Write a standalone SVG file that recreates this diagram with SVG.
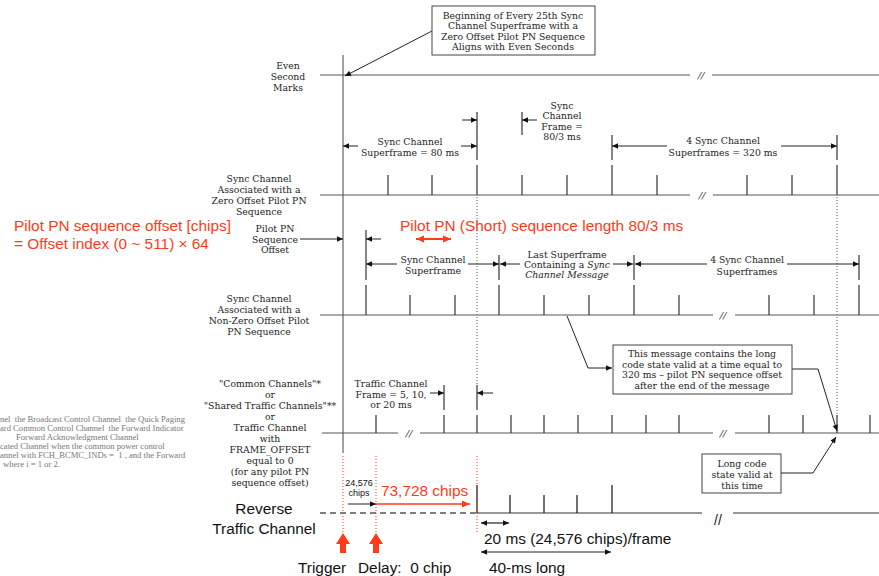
<svg xmlns="http://www.w3.org/2000/svg" width="879" height="576" viewBox="0 0 879 576">
<style>
.s{font-family:"DejaVu Serif","Liberation Serif",serif;font-size:9.3px;fill:#222;text-anchor:middle}
.si{font-style:italic}
.r{font-family:"Liberation Sans",Arial,sans-serif;font-size:15.4px;fill:#ff3b1a}
.k{font-family:"Liberation Sans",Arial,sans-serif;font-size:15.4px;fill:#111}
.g{font-family:"Liberation Serif",serif;font-size:8.6px;fill:#777}
.brk{font-family:"DejaVu Serif",serif;font-style:italic;font-size:10px;fill:#333;text-anchor:middle}
.ln{stroke:#555;stroke-width:1;fill:none}
.tk{stroke:#333;stroke-width:1.2;fill:none}
.ar{stroke:#222;stroke-width:1;fill:none;marker-end:url(#ah)}
.ar2{stroke:#222;stroke-width:1.2;fill:none;marker-start:url(#ah);marker-end:url(#ah)}
.dot{stroke:#666;stroke-width:1;stroke-dasharray:1 2;fill:none}
.rdot{stroke:#ff3b1a;stroke-width:1;stroke-dasharray:1 2;fill:none}
.box{fill:#fff;stroke:#444;stroke-width:1}
</style>
<defs>
<marker id="ah" viewBox="0 0 10 10" refX="10" refY="5" markerWidth="8" markerHeight="6" markerUnits="userSpaceOnUse" orient="auto-start-reverse"><path d="M0,0.5 L10,5 L0,9.5 z" fill="#111"/></marker>
<marker id="rah" viewBox="0 0 10 10" refX="10" refY="5" markerWidth="10" markerHeight="8" markerUnits="userSpaceOnUse" orient="auto-start-reverse"><path d="M0,0.5 L10,5 L0,9.5 z" fill="#ff3b1a"/></marker>
</defs>
<rect width="879" height="576" fill="#fff"/>

<g id="connectors">
  <line class="ln" x1="343" y1="55" x2="343" y2="453" style="stroke:#444"/>
  <line class="ln" x1="320" y1="75" x2="690" y2="75"/>
  <line class="ln" x1="712" y1="75" x2="879" y2="75"/>
  <text class="brk" x="701" y="79">//</text>
  <line class="ln" x1="320" y1="195" x2="690" y2="195"/>
  <line class="ln" x1="713" y1="195" x2="879" y2="195"/>
  <text class="brk" x="702" y="199">//</text>
  <g class="tk">
    <line x1="388" y1="175" x2="388" y2="195"/><line x1="432" y1="175" x2="432" y2="195"/>
    <line x1="477" y1="165" x2="477" y2="195"/><line x1="522" y1="175" x2="522" y2="195"/>
    <line x1="567" y1="175" x2="567" y2="195"/><line x1="612" y1="165" x2="612" y2="195"/>
    <line x1="657" y1="175" x2="657" y2="195"/><line x1="747" y1="175" x2="747" y2="195"/>
    <line x1="792" y1="175" x2="792" y2="195"/><line x1="837" y1="165" x2="837" y2="195"/>
    <line x1="477" y1="112" x2="477" y2="160"/><line x1="522" y1="112" x2="522" y2="135"/>
    <line x1="612" y1="135" x2="612" y2="160"/><line x1="837" y1="135" x2="837" y2="160"/>
  </g>
  <line class="ar" x1="358" y1="146" x2="343" y2="146"/>
  <line class="ar" x1="461" y1="146" x2="477" y2="146"/>
  <line class="ar" x1="462" y1="120" x2="477" y2="120"/>
  <line class="ar" x1="537" y1="120" x2="522" y2="120"/>
  <line class="ar" x1="667" y1="146" x2="612" y2="146"/>
  <line class="ar" x1="781" y1="146" x2="837" y2="146"/>
  <line class="dot" x1="477" y1="197" x2="477" y2="385"/>
  <line class="dot" x1="837" y1="197" x2="837" y2="415"/>
  <line class="ln" x1="320" y1="315" x2="713" y2="315"/>
  <line class="ln" x1="735" y1="315" x2="879" y2="315"/>
  <text class="brk" x="723" y="319">//</text>
  <g class="tk">
    <line x1="366" y1="285" x2="366" y2="315"/><line x1="410" y1="295" x2="410" y2="315"/>
    <line x1="455" y1="295" x2="455" y2="315"/><line x1="499" y1="285" x2="499" y2="315"/>
    <line x1="544" y1="295" x2="544" y2="315"/><line x1="589" y1="295" x2="589" y2="315"/>
    <line x1="634" y1="285" x2="634" y2="315"/><line x1="679" y1="295" x2="679" y2="315"/>
    <line x1="769" y1="295" x2="769" y2="315"/><line x1="814" y1="295" x2="814" y2="315"/>
    <line x1="859" y1="285" x2="859" y2="315"/>
    <line x1="366" y1="230" x2="366" y2="280"/><line x1="499" y1="255" x2="499" y2="280"/>
    <line x1="634" y1="255" x2="634" y2="280"/><line x1="859" y1="255" x2="859" y2="280"/>
  </g>
  <line class="ar" x1="300" y1="239" x2="343" y2="239"/>
  <line class="ar" x1="381" y1="239" x2="366" y2="239"/>
  <line x1="416" y1="239" x2="451" y2="239" style="stroke:#ff3b1a;stroke-width:2;marker-start:url(#rah);marker-end:url(#rah)"/>
  <line class="ar" x1="397" y1="264" x2="366" y2="264"/>
  <line class="ar" x1="468" y1="264" x2="499" y2="264"/>
  <line class="ar" x1="520" y1="264" x2="500" y2="264"/>
  <line class="ar" x1="613" y1="264" x2="633" y2="264"/>
  <line class="ar" x1="707" y1="264" x2="635" y2="264"/>
  <line class="ar" x1="787" y1="264" x2="859" y2="264"/>
  <line class="ln" x1="322" y1="433" x2="398" y2="433"/>
  <line class="ln" x1="420" y1="433" x2="713" y2="433"/>
  <line class="ln" x1="735" y1="433" x2="879" y2="433"/>
  <text class="brk" x="409" y="437">//</text>
  <text class="brk" x="723" y="437">//</text>
  <g class="tk">
    <line x1="376" y1="415" x2="376" y2="433"/><line x1="444" y1="415" x2="444" y2="433"/>
    <line x1="477" y1="415" x2="477" y2="433"/><line x1="511" y1="415" x2="511" y2="433"/>
    <line x1="544" y1="415" x2="544" y2="433"/><line x1="578" y1="415" x2="578" y2="433"/>
    <line x1="612" y1="415" x2="612" y2="433"/><line x1="646" y1="415" x2="646" y2="433"/>
    <line x1="679" y1="415" x2="679" y2="433"/><line x1="769" y1="415" x2="769" y2="433"/>
    <line x1="803" y1="415" x2="803" y2="433"/><line x1="837" y1="415" x2="837" y2="433"/>
    <line x1="870" y1="415" x2="870" y2="433"/>
    <line x1="444" y1="385" x2="444" y2="410"/><line x1="477" y1="385" x2="477" y2="410"/>
  </g>
  <line class="ar" x1="430" y1="393" x2="444" y2="393"/>
  <line class="ar" x1="493" y1="393" x2="477" y2="393"/>
  <line x1="320" y1="513" x2="477" y2="513" style="stroke:#555;stroke-width:1.5;stroke-dasharray:6 4"/>
  <line class="ln" x1="477" y1="513" x2="702" y2="513" style="stroke:#333"/>
  <line class="ln" x1="733" y1="513" x2="879" y2="513" style="stroke:#333"/>
  <text x="718" y="525" style="font-family:'Liberation Sans',sans-serif;font-size:14px;fill:#222;text-anchor:middle">//</text>
  <g class="tk" style="stroke:#111">
    <line x1="477" y1="485" x2="477" y2="513"/><line x1="510" y1="495" x2="510" y2="513"/>
    <line x1="544" y1="495" x2="544" y2="513"/><line x1="577" y1="495" x2="577" y2="513"/>
    <line x1="612" y1="485" x2="612" y2="513"/>
  </g>
  <line class="rdot" x1="343" y1="456" x2="343" y2="533"/>
  <line class="rdot" x1="376" y1="456" x2="376" y2="533"/>
  <line class="rdot" x1="477" y1="456" x2="477" y2="532"/>
  <line class="ar" x1="348" y1="504" x2="376" y2="504"/>
  <line x1="376" y1="504" x2="470" y2="504" style="stroke:#ff3b1a;stroke-width:1.5;marker-end:url(#rah)"/>
  <line class="ar2" x1="481" y1="523" x2="509" y2="523"/>
  <line class="ar2" x1="481" y1="552" x2="611" y2="552"/>
  <path d="M343,533 L350,544 L346,544 L346,553 L340,553 L340,544 L336,544 Z" fill="#ff3b1a"/>
  <path d="M376,533 L383,544 L379,544 L379,553 L373,553 L373,544 L369,544 Z" fill="#ff3b1a"/>
  <line class="ar" x1="432" y1="31" x2="345" y2="76"/>
  <polyline class="ar" points="567,316 588,368 612,368"/>
  <polyline class="ar" points="792,369 818,369 837,431"/>
  <polyline class="ar" points="781,473 813,473 836,437"/>
</g>

<g id="note-top">
  <rect class="box" x="432" y="6" width="163" height="49"/>
  <text class="s" x="513" y="18.5">Beginning of Every 25th Sync</text>
  <text class="s" x="513" y="29">Channel Superframe with a</text>
  <text class="s" x="513" y="39.5">Zero Offset Pilot PN Sequence</text>
  <text class="s" x="513" y="50">Aligns with Even Seconds</text>
</g>
<g id="label-even">
  <text class="s" x="288" y="68.5">Even</text>
  <text class="s" x="288" y="79.5">Second</text>
  <text class="s" x="288" y="90.5">Marks</text>
</g>
<g id="dim-row1">
  <text class="s" x="410" y="144.5">Sync Channel</text>
  <text class="s" x="410" y="155.5">Superframe = 80 ms</text>
  <text class="s" x="562" y="108.5">Sync</text>
  <text class="s" x="562" y="119">Channel</text>
  <text class="s" x="562" y="129.5">Frame =</text>
  <text class="s" x="562" y="140">80/3 ms</text>
  <text class="s" x="723" y="143.5">4 Sync Channel</text>
  <text class="s" x="723" y="155.5">Superframes = 320 ms</text>
</g>
<g id="label-row1">
  <text class="s" x="259" y="181.5">Sync Channel</text>
  <text class="s" x="259" y="192.5">Associated with a</text>
  <text class="s" x="259" y="203.5">Zero Offset Pilot PN</text>
  <text class="s" x="259" y="214.5">Sequence</text>
</g>
<g id="red-offset">
  <text class="r" x="14" y="230.5">Pilot PN sequence offset [chips]</text>
  <text class="r" x="14" y="248.5">= Offset index (0 ~ 511) × 64</text>
  <text class="r" x="400" y="230.5">Pilot PN (Short) sequence length 80/3 ms</text>
</g>
<g id="label-offset">
  <text class="s" x="275" y="231.5">Pilot PN</text>
  <text class="s" x="275" y="242.5">Sequence</text>
  <text class="s" x="275" y="252.5">Offset</text>
</g>
<g id="dim-row2">
  <text class="s" x="433" y="262.5">Sync Channel</text>
  <text class="s" x="433" y="273.5">Superframe</text>
  <text class="s" x="567" y="257.5">Last Superframe</text>
  <text class="s" x="567" y="267.5">Containing a <tspan class="si">Sync</tspan></text>
  <text class="s si" x="567" y="278">Channel Message</text>
  <text class="s" x="747" y="262.5">4 Sync Channel</text>
  <text class="s" x="747" y="274.5">Superframes</text>
</g>
<g id="label-row2">
  <text class="s" x="259" y="301.5">Sync Channel</text>
  <text class="s" x="259" y="312.5">Associated with a</text>
  <text class="s" x="259" y="323.5">Non-Zero Offset Pilot</text>
  <text class="s" x="259" y="334.5">PN Sequence</text>
</g>
<g id="note-message">
  <rect class="box" x="613" y="345" width="179" height="49"/>
  <text class="s" x="702" y="356.5">This message contains the long</text>
  <text class="s" x="702" y="367.5">code state valid at a time equal to</text>
  <text class="s" x="702" y="378">320 ms – pilot PN sequence offset</text>
  <text class="s" x="702" y="389">after the end of the message</text>
</g>
<g id="dim-row3">
  <text class="s" x="391" y="386.5">Traffic Channel</text>
  <text class="s" x="391" y="397.5">Frame = 5, 10,</text>
  <text class="s" x="391" y="407.5">or 20 ms</text>
</g>
<g id="label-row3">
  <text class="s" x="270" y="386.5">"Common Channels"*</text>
  <text class="s" x="270" y="397.5">or</text>
  <text class="s" x="270" y="408.5">"Shared Traffic Channels"**</text>
  <text class="s" x="270" y="419.5">or</text>
  <text class="s" x="270" y="430.5">Traffic Channel</text>
  <text class="s" x="270" y="441.5">with</text>
  <text class="s" x="270" y="452.5">FRAME_OFFSET</text>
  <text class="s" x="270" y="463.5">equal to 0</text>
  <text class="s" x="270" y="474.5">(for any pilot PN</text>
  <text class="s" x="270" y="485.5">sequence offset)</text>
</g>
<g id="footnote">
  <text class="g" x="0" y="421.5">nel&#160; the Broadcast Control Channel&#160; the Quick Paging</text>
  <text class="g" x="0" y="431">ard Common Control Channel&#160; the Forward Indicator</text>
  <text class="g" x="16" y="440">Forward Acknowledgment Channel</text>
  <text class="g" x="0" y="449">cated Channel when the common power control</text>
  <text class="g" x="0" y="458">annel with FCH_BCMC_INDs =&#160; 1 , and the Forward</text>
  <text class="g" x="3" y="467">where i = 1 or 2.</text>
</g>
<g id="note-longcode">
  <rect class="box" x="702" y="454" width="79" height="39"/>
  <text class="s" x="742" y="466.5">Long code</text>
  <text class="s" x="742" y="477.5">state valid at</text>
  <text class="s" x="742" y="488.5">this time</text>
</g>
<g id="reverse">
  <text class="k" x="264" y="513.5" text-anchor="middle">Reverse</text>
  <text class="k" x="264" y="533.5" text-anchor="middle">Traffic Channel</text>
  <text x="359" y="486" style="font-family:'Liberation Sans',sans-serif;font-size:9px;fill:#111;text-anchor:middle">24,576</text>
  <text x="359" y="496" style="font-family:'Liberation Sans',sans-serif;font-size:9px;fill:#111;text-anchor:middle">chips</text>
  <text class="r" x="381" y="495.5">73,728 chips</text>
  <text class="k" x="484" y="543.5">20 ms (24,576 chips)/frame</text>
  <text class="k" x="298" y="572.5">Trigger</text>
  <text class="k" x="358" y="572.5">Delay:&#160; 0 chip</text>
  <text class="k" x="489" y="572.5">40-ms long</text>
</g>
</svg>
